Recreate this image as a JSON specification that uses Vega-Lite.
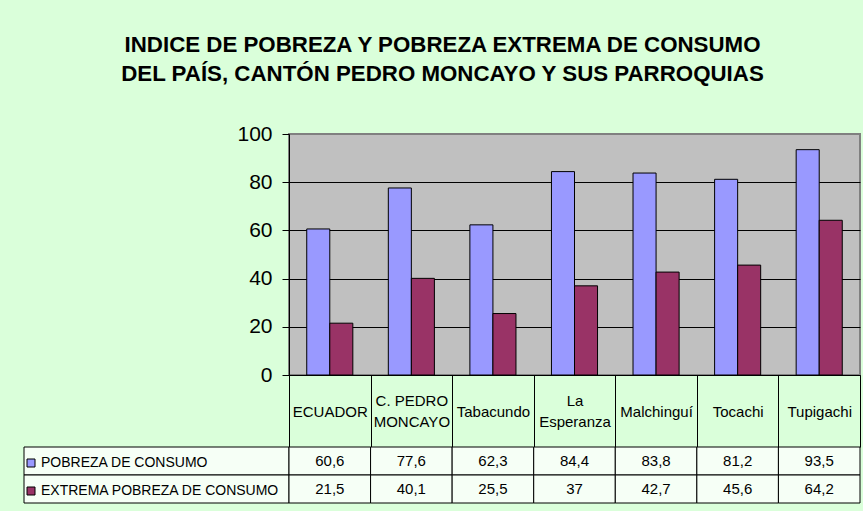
{
  "$schema": "https://vega.github.io/schema/vega-lite/v6.json",
  "background": "#DAFFDA",
  "padding": {"left": 23, "top": 33, "right": 4, "bottom": 8},
  "config": {
    "font": "Liberation Sans",
    "view": {"stroke": null},
    "locale": {"number": {"decimal": ",", "thousands": ".", "grouping": [3], "currency": ["", " €"]}}
  },
  "title": {
    "text": ["INDICE DE POBREZA Y POBREZA EXTREMA DE CONSUMO", "DEL PAÍS, CANTÓN PEDRO MONCAYO Y SUS PARROQUIAS"],
    "fontSize": 22.3,
    "fontWeight": "bold",
    "font": "Liberation Sans",
    "color": "black",
    "lineHeight": 29,
    "anchor": "middle",
    "offset": 37
  },
  "datasets": {
    "valores": [
      {"categoria": "ECUADOR", "serie": "POBREZA DE CONSUMO", "valor": 60.6},
      {"categoria": "C. PEDRO MONCAYO", "serie": "POBREZA DE CONSUMO", "valor": 77.6},
      {"categoria": "Tabacundo", "serie": "POBREZA DE CONSUMO", "valor": 62.3},
      {"categoria": "La Esperanza", "serie": "POBREZA DE CONSUMO", "valor": 84.4},
      {"categoria": "Malchinguí", "serie": "POBREZA DE CONSUMO", "valor": 83.8},
      {"categoria": "Tocachi", "serie": "POBREZA DE CONSUMO", "valor": 81.2},
      {"categoria": "Tupigachi", "serie": "POBREZA DE CONSUMO", "valor": 93.5},
      {"categoria": "ECUADOR", "serie": "EXTREMA POBREZA DE CONSUMO", "valor": 21.5},
      {"categoria": "C. PEDRO MONCAYO", "serie": "EXTREMA POBREZA DE CONSUMO", "valor": 40.1},
      {"categoria": "Tabacundo", "serie": "EXTREMA POBREZA DE CONSUMO", "valor": 25.5},
      {"categoria": "La Esperanza", "serie": "EXTREMA POBREZA DE CONSUMO", "valor": 37},
      {"categoria": "Malchinguí", "serie": "EXTREMA POBREZA DE CONSUMO", "valor": 42.7},
      {"categoria": "Tocachi", "serie": "EXTREMA POBREZA DE CONSUMO", "valor": 45.6},
      {"categoria": "Tupigachi", "serie": "EXTREMA POBREZA DE CONSUMO", "valor": 64.2}
    ],
    "series": [
      {"serie": "POBREZA DE CONSUMO"},
      {"serie": "EXTREMA POBREZA DE CONSUMO"}
    ]
  },
  "columns": 2,
  "spacing": {"row": 72, "column": 0},
  "bounds": "flush",
  "resolve": {"scale": {"color": "independent"}},
  "concat": [
    {
      "width": 265,
      "height": 241,
      "data": {"values": []},
      "mark": "point",
      "encoding": {}
    },
    {
      "width": 571,
      "height": 241,
      "view": {"fill": "#C0C0C0", "stroke": "#808080", "strokeWidth": 2},
      "data": {"name": "valores"},
      "mark": {"type": "bar", "stroke": "black", "strokeWidth": 1},
      "encoding": {
        "x": {
          "field": "categoria", "type": "nominal", "sort": null,
          "scale": {"paddingInner": 0, "paddingOuter": 0},
          "axis": {
            "title": null, "orient": "bottom",
            "domainColor": "black", "domainWidth": 1,
            "tickBand": "extent", "tickSize": 72, "tickColor": "black", "tickWidth": 1,
            "labelAngle": 0, "labelFontSize": 15, "labelColor": "black",
            "labelBaseline": {"condition": {"test": "datum.label == 'C. PEDRO MONCAYO' || datum.label == 'La Esperanza'", "value": "line-bottom"}, "value": "middle"},
            "labelPadding": -36, "labelLineHeight": 21,
            "labelOverlap": false,
            "labelExpr": "datum.label == 'C. PEDRO MONCAYO' ? ['C. PEDRO', 'MONCAYO'] : datum.label == 'La Esperanza' ? ['La', 'Esperanza'] : datum.label"
          }
        },
        "xOffset": {
          "field": "serie", "type": "nominal",
          "sort": ["POBREZA DE CONSUMO", "EXTREMA POBREZA DE CONSUMO"],
          "scale": {"paddingInner": 0, "paddingOuter": 0.77}
        },
        "y": {
          "field": "valor", "type": "quantitative",
          "scale": {"domain": [0, 100]},
          "axis": {
            "title": null, "values": [0, 20, 40, 60, 80, 100],
            "grid": true,
            "gridColor": {"condition": {"test": "datum.value == 100", "value": "#808080"}, "value": "black"},
            "gridWidth": 1,
            "domainColor": "black", "tickColor": "black", "tickSize": 7,
            "labelFontSize": 21, "labelColor": "black", "labelPadding": 10
          }
        },
        "color": {
          "field": "serie", "type": "nominal",
          "scale": {"domain": ["POBREZA DE CONSUMO", "EXTREMA POBREZA DE CONSUMO"], "range": ["#9999FF", "#993366"]},
          "legend": null
        }
      }
    },
    {
      "width": 265,
      "height": 56,
      "data": {"name": "series"},
      "encoding": {
        "y": {
          "field": "serie", "type": "nominal",
          "sort": ["POBREZA DE CONSUMO", "EXTREMA POBREZA DE CONSUMO"],
          "scale": {"paddingInner": 0, "paddingOuter": 0},
          "axis": null
        }
      },
      "layer": [
        {"mark": {"type": "rect", "fill": "#F6FFF6", "stroke": "black", "strokeWidth": 1}},
        {
          "mark": {"type": "point", "shape": "square", "filled": true, "opacity": 0, "stroke": "black", "strokeWidth": 1},
          "encoding": {
            "color": {
              "field": "serie", "type": "nominal",
              "scale": {"domain": ["POBREZA DE CONSUMO", "EXTREMA POBREZA DE CONSUMO"], "range": ["#9999FF", "#993366"]},
              "legend": {
                "orient": "none", "legendX": 0, "legendY": 9, "title": null, "padding": 0,
                "symbolType": "square", "symbolSize": 64, "symbolOpacity": 1,
                "symbolStrokeColor": "black", "symbolStrokeWidth": 1,
                "labelFontSize": 14, "labelColor": "black", "labelOffset": 3,
                "rowPadding": 14, "labelLimit": 300
              }
            }
          }
        }
      ]
    },
    {
      "width": 571,
      "height": 56,
      "data": {"name": "valores"},
      "encoding": {
        "x": {"field": "categoria", "type": "nominal", "sort": null, "scale": {"paddingInner": 0, "paddingOuter": 0}, "axis": null},
        "y": {
          "field": "serie", "type": "nominal",
          "sort": ["POBREZA DE CONSUMO", "EXTREMA POBREZA DE CONSUMO"],
          "scale": {"paddingInner": 0, "paddingOuter": 0},
          "axis": null
        }
      },
      "layer": [
        {"mark": {"type": "rect", "fill": "#F6FFF6", "stroke": "black", "strokeWidth": 1}},
        {
          "mark": {"type": "text", "fontSize": 15, "color": "black"},
          "encoding": {"text": {"field": "valor", "type": "quantitative", "format": ".3~r"}}
        }
      ]
    }
  ]
}
